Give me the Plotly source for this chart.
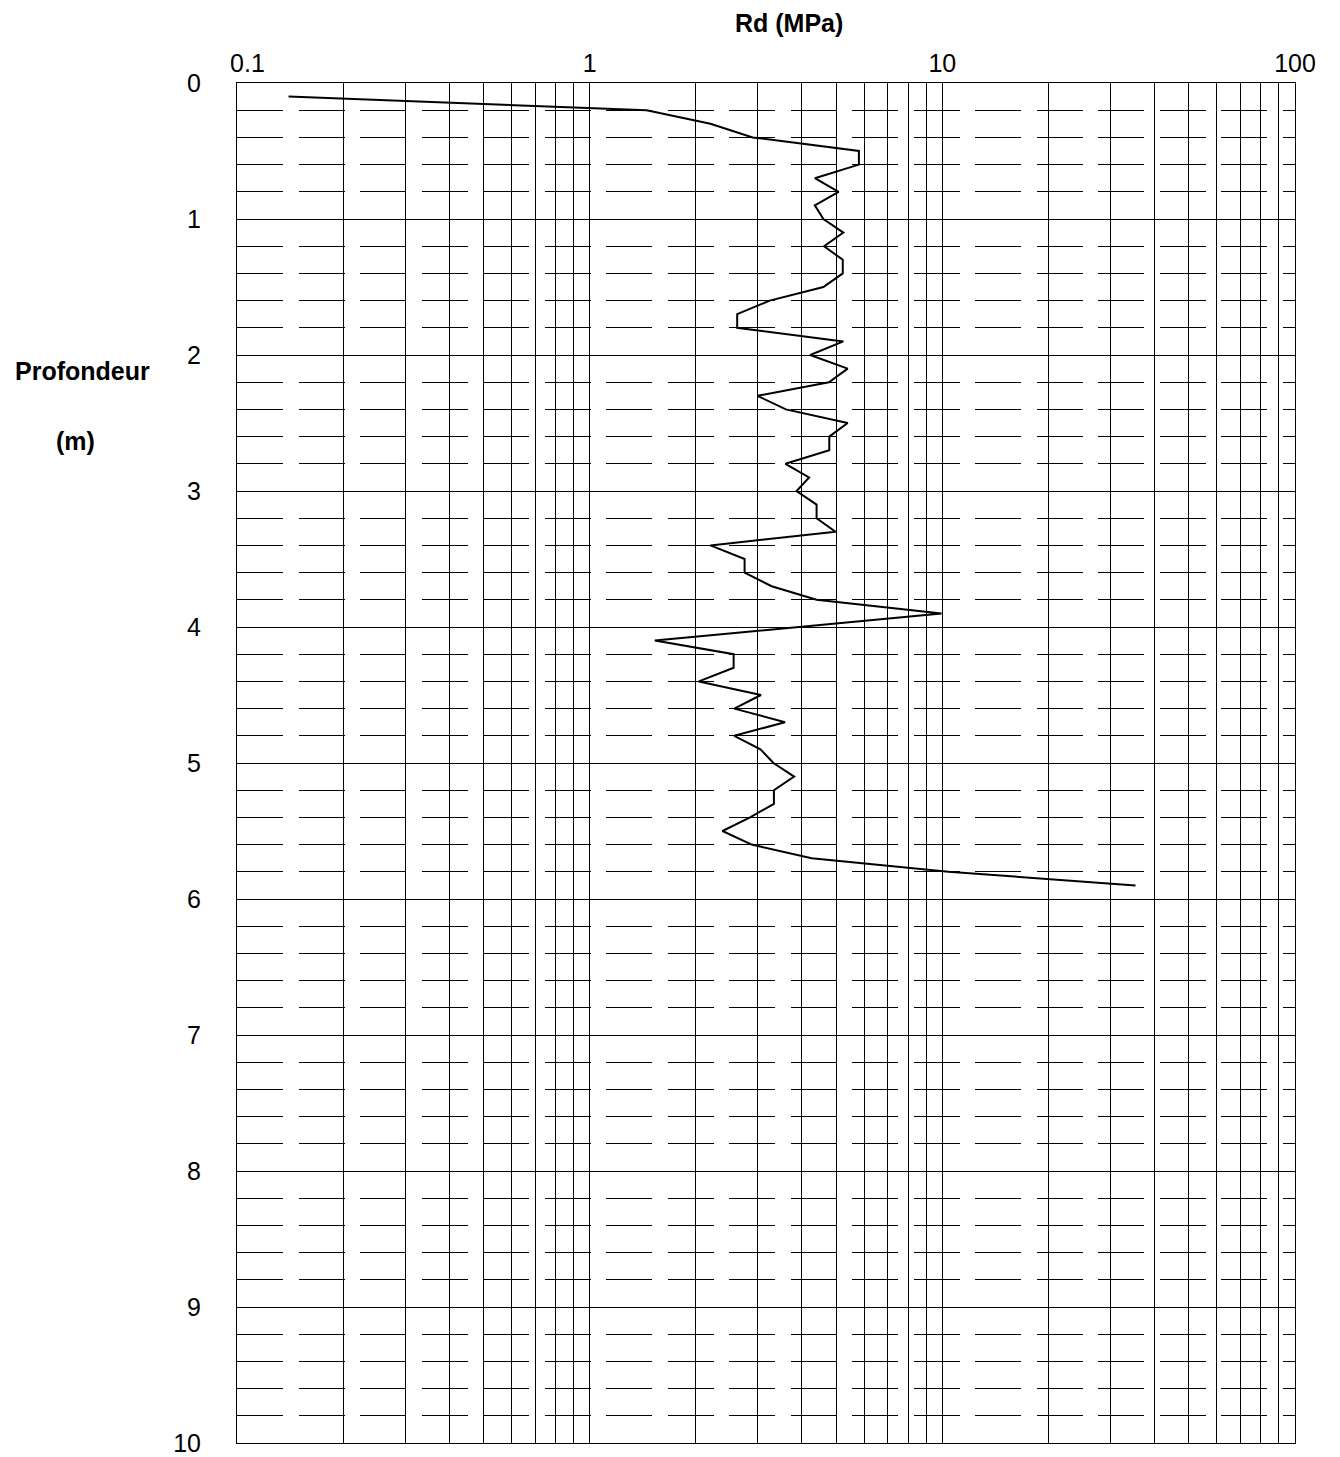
import plotly.graph_objects as go

# Dynamic penetrometer log: cone resistance Rd (MPa) versus depth (m)
depth = [0.1, 0.2, 0.3, 0.4, 0.5, 0.6, 0.7, 0.8, 0.9, 1.0,
         1.1, 1.2, 1.3, 1.4, 1.5, 1.6, 1.7, 1.8, 1.9, 2.0,
         2.1, 2.2, 2.3, 2.4, 2.5, 2.6, 2.7, 2.8, 2.9, 3.0,
         3.1, 3.2, 3.3, 3.4, 3.5, 3.6, 3.7, 3.8, 3.9, 4.0,
         4.1, 4.2, 4.3, 4.4, 4.5, 4.6, 4.7, 4.8, 4.9, 5.0,
         5.1, 5.2, 5.3, 5.4, 5.5, 5.6, 5.7, 5.8, 5.9]
rd = [0.14, 1.45, 2.20, 2.90, 5.80, 5.80, 4.35, 5.08, 4.35, 4.60,
      5.24, 4.62, 5.22, 5.22, 4.60, 3.24, 2.62, 2.62, 5.24, 4.22,
      5.39, 4.77, 2.99, 3.60, 5.39, 4.78, 4.78, 3.59, 4.19, 3.86,
      4.40, 4.40, 4.98, 2.20, 2.75, 2.75, 3.28, 4.40, 9.95, 3.90,
      1.53, 2.56, 2.56, 2.04, 3.06, 2.57, 3.58, 2.57, 3.05, 3.32,
      3.80, 3.33, 3.33, 2.85, 2.38, 2.88, 4.26, 10.4, 35.3]

x_ticks = [0.1, 1, 10, 100]
x_ticktext = ["\u00a0" * 3 + "0.1", "1", "10", "100"]
y_ticks = list(range(11))
y_ticktext = [str(v) for v in y_ticks]

# every 1..9 x 10^k line between 0.1 and 100
x_minor = [m * 10 ** k for k in (-1, 0, 1) for m in range(2, 10)]

FONT = "Liberation Sans, Arial, sans-serif"

fig = go.Figure()
fig.add_trace(go.Scatter(
    x=rd, y=depth, mode="lines",
    line=dict(color="black", width=2),
    hoverinfo="x+y",
))

fig.update_layout(
    width=1340, height=1457,
    margin=dict(l=237, r=45, t=83, b=14),
    paper_bgcolor="white", plot_bgcolor="white",
    showlegend=False,
    font=dict(family=FONT, size=25, color="black"),
    xaxis=dict(
        type="log", range=[-1, 2], side="top", automargin=False,
        tickmode="array", tickvals=x_ticks, ticktext=x_ticktext,
        ticks="", ticklabelstandoff=0,
        showgrid=True, gridcolor="black", gridwidth=1,
        minor=dict(tickmode="array", tickvals=x_minor, showgrid=True,
                   gridcolor="black", gridwidth=1, ticks=""),
        showline=True, linecolor="black", linewidth=1, mirror=True,
        zeroline=False,
    ),
    yaxis=dict(
        range=[10, 0], automargin=False,
        tickmode="array", tickvals=y_ticks, ticktext=y_ticktext,
        ticks="", ticklabelstandoff=30,
        showgrid=True, gridcolor="black", gridwidth=1,
        minor=dict(dtick=0.2, tick0=0, showgrid=True, gridcolor="black",
                   gridwidth=1, griddash="46px,15.5px", ticks=""),
        showline=True, linecolor="black", linewidth=1, mirror=True,
        zeroline=False,
    ),
    annotations=[
        dict(text="<b>Rd (MPa)</b>", xref="paper", yref="paper",
             x=0.5217, y=1.0441, xanchor="center", yanchor="middle",
             showarrow=False, font=dict(family=FONT, size=25)),
        dict(text="<b>Profondeur</b>", xref="paper", yref="y",
             x=-0.1465, y=2.12, xanchor="center", yanchor="middle",
             showarrow=False, font=dict(family=FONT, size=25)),
        dict(text="<b>(m)</b>", xref="paper", yref="y",
             x=-0.1522, y=2.63, xanchor="center", yanchor="middle",
             showarrow=False, font=dict(family=FONT, size=25)),
    ],
)

fig.write_html("out.html")
